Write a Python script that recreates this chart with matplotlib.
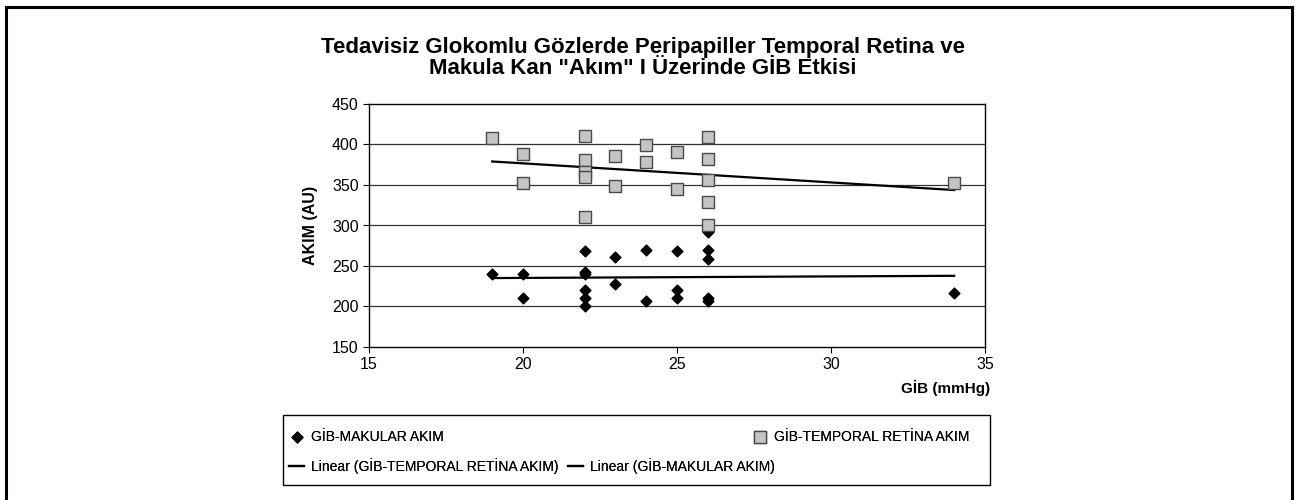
import matplotlib
matplotlib.use("Agg")
import matplotlib.pyplot as plt
from matplotlib.patches import Rectangle
import numpy as np

plt.rcParams['font.family'] = ['Liberation Sans', 'DejaVu Sans']

# --- data ---
temporal_gib = [19, 20, 20, 22, 22, 22, 22, 22, 23, 23, 24, 24, 25, 25, 26, 26, 26, 26, 26, 34]
temporal_akim = [408, 388, 353, 410, 381, 366, 360, 310, 386, 349, 399, 378, 391, 345, 409, 382, 356, 329, 300, 353]

makular_gib = [19, 20, 20, 22, 22, 22, 22, 22, 22, 23, 23, 24, 24, 25, 25, 25, 26, 26, 26, 26, 26, 34]
makular_akim = [240, 240, 211, 268, 242, 240, 220, 210, 200, 261, 228, 270, 207, 269, 220, 210, 292, 270, 259, 211, 207, 217]

title = 'Tedavisiz Glokomlu Gözlerde Peripapiller Temporal Retina ve\nMakula Kan "Akım" I Üzerinde GİB Etkisi'
xlabel = 'GİB (mmHg)'
ylabel = 'AKIM (AU)'
x_ticks = [15, 20, 25, 30, 35]
y_ticks = [150, 200, 250, 300, 350, 400, 450]

W, H = 1299, 500
fig = plt.figure(figsize=(W / 100, H / 100), dpi=100)

def px(x0, y0, x1, y1):
    return [x0 / W, 1 - y1 / H, (x1 - x0) / W, (y1 - y0) / H]

ax = fig.add_axes(px(369, 104, 985, 347))

# outer frame
fig.add_artist(Rectangle((6 / W, -0.05), (1292 - 6) / W, 1.05 - 7 / H,
                         transform=fig.transFigure, fill=False,
                         edgecolor='black', linewidth=2.2))

for y in y_ticks[1:-1]:
    ax.axhline(y, color='#333333', linewidth=0.9, zorder=1)

ms = ax.scatter(makular_gib, makular_akim, marker='D', s=30, color='black',
                zorder=3, label='GİB-MAKULAR AKIM')
ts = ax.scatter(temporal_gib, temporal_akim, marker='s', s=85, facecolor='#c4c4c4',
                edgecolor='#4a4a4a', linewidth=1.0, zorder=3,
                label='GİB-TEMPORAL RETİNA AKIM')

pt = np.polyfit(temporal_gib, temporal_akim, 1)
pm = np.polyfit(makular_gib, makular_akim, 1)
xr = np.array([min(temporal_gib), max(temporal_gib)])
xm = np.array([min(makular_gib), max(makular_gib)])
lt, = ax.plot(xr, np.polyval(pt, xr), color='black', linewidth=1.6, zorder=2,
              label='Linear (GİB-TEMPORAL RETİNA AKIM)')
lm, = ax.plot(xm, np.polyval(pm, xm), color='black', linewidth=1.6, zorder=2,
              label='Linear (GİB-MAKULAR AKIM)')

ax.set_xlim(15, 35)
ax.set_ylim(150, 450)
ax.set_xticks(x_ticks)
ax.set_yticks(y_ticks)
ax.tick_params(direction='out', length=4, width=0.8, labelsize=11.5, colors='black')
for s in ax.spines.values():
    s.set_color('black')
    s.set_linewidth(1.0)

fig.text(311 / W, 1 - 225 / H, ylabel, rotation=90, ha='center', va='center',
         fontsize=11.5, fontweight='bold')
fig.text(946 / W, 1 - 388 / H, xlabel, ha='center', va='center',
         fontsize=11, fontweight='bold')
fig.text(643 / W, 1 - 58 / H, title, ha='center', va='center',
         fontsize=16, fontweight='bold', linespacing=1.0)

# legend frame
fig.add_artist(Rectangle((283 / W, 1 - 485 / H), (990 - 283) / W, 70 / H,
                         transform=fig.transFigure, fill=False,
                         edgecolor='black', linewidth=1.0))

def item(handle, x, y):
    lg = fig.legend(handles=[handle], loc='center left',
                    bbox_to_anchor=(x / W, 1 - y / H), frameon=False,
                    fontsize=10, handlelength=1.1, handletextpad=0.5,
                    borderpad=0, borderaxespad=0, scatterpoints=1)
    fig.add_artist(lg)

item(ms, 289, 437)
item(ts, 752, 437)
item(lt, 289, 466)
item(lm, 568, 466)

fig.savefig('out.png', dpi=100)
